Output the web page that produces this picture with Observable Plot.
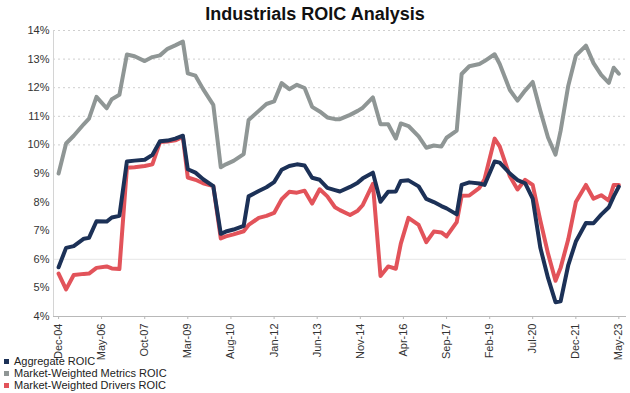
<!DOCTYPE html>
<html><head><meta charset="utf-8">
<script src="https://cdn.jsdelivr.net/npm/d3@7"></script>
<script src="https://cdn.jsdelivr.net/npm/@observablehq/plot@0.6"></script>
<style>
body{margin:0;background:#fff;font-family:"Liberation Sans",Arial,sans-serif;}
#wrap{position:relative;width:630px;height:393px;overflow:hidden;background:#fff;}
#title{position:absolute;top:3px;left:0;width:630px;text-align:center;font-weight:bold;font-size:18px;color:#111;line-height:22px;}
#chart{position:absolute;top:24px;left:0;}
#legend{position:absolute;top:355px;left:4px;font-size:11px;color:#222;line-height:12px;}
.row{white-space:nowrap;}
.sw{display:inline-block;width:5px;height:5px;margin-right:5px;vertical-align:1px;}
</style></head><body>
<div id="wrap"><div id="title">Industrials ROIC Analysis</div><div id="chart"></div><div id="legend"></div></div>
<script>
const dates = ["2004-12","2005-03","2005-06","2005-10","2005-12","2006-03","2006-07","2006-09","2006-12","2007-03",
"2007-06","2007-10","2008-01","2008-04","2008-07","2008-10","2009-01","2009-03","2009-06","2009-09",
"2010-01","2010-04","2010-06","2010-09","2011-01","2011-03","2011-07","2011-10","2012-01","2012-04",
"2012-07","2012-10","2013-01","2013-04","2013-07","2013-10","2014-01","2014-03","2014-07","2014-10",
"2014-12","2015-04","2015-07","2015-10","2016-01","2016-03","2016-06","2016-10","2017-01","2017-04",
"2017-07","2017-09","2018-01","2018-03","2018-06","2018-10","2018-12","2019-04","2019-06","2019-10",
"2020-01","2020-04","2020-07","2020-10","2021-01","2021-04","2021-06","2021-09","2021-12","2022-04",
"2022-07","2022-10","2023-01","2023-03","2023-05"];
const aggregate = [5.72,6.4,6.46,6.72,6.75,7.33,7.32,7.46,7.52,9.42,9.45,9.48,9.65,10.13,10.15,10.22,10.32,9.15,9.03,8.8,
8.56,6.89,6.97,7.04,7.17,8.2,8.39,8.52,8.7,9.13,9.26,9.32,9.28,8.85,8.78,8.5,8.42,8.37,8.53,8.68,
8.83,9.03,8.01,8.36,8.37,8.74,8.76,8.55,8.11,8.0,7.86,7.78,7.57,8.6,8.69,8.65,8.6,9.42,9.38,9.0,
8.77,8.66,8.12,6.4,5.35,4.5,4.53,5.8,6.62,7.27,7.26,7.56,7.82,8.2,8.54];
const metrics = [9.0,10.05,10.32,10.73,10.92,11.68,11.28,11.6,11.75,13.16,13.1,12.93,13.07,13.13,13.36,13.48,13.61,12.5,12.42,11.95,
11.4,9.22,9.32,9.44,9.68,10.87,11.19,11.43,11.52,12.16,11.95,12.1,11.99,11.33,11.17,10.96,10.9,10.9,11.05,11.19,
11.3,11.66,10.72,10.72,10.22,10.75,10.66,10.3,9.9,9.98,9.94,10.25,10.5,12.48,12.75,12.83,12.93,13.17,12.83,11.92,
11.55,11.9,12.2,11.19,10.26,9.66,10.49,12.07,13.12,13.47,12.86,12.45,12.17,12.7,12.49];
const drivers = [5.5,4.95,5.45,5.49,5.5,5.7,5.75,5.68,5.66,9.2,9.22,9.26,9.32,10.1,10.12,10.16,10.28,8.86,8.78,8.66,
8.56,6.73,6.8,6.87,6.98,7.2,7.45,7.52,7.62,8.1,8.36,8.33,8.4,7.95,8.45,8.2,7.82,7.72,7.55,7.7,
7.9,8.64,5.42,5.75,5.67,6.55,7.45,7.2,6.6,6.97,6.94,6.8,7.3,8.22,8.23,8.5,8.8,10.22,9.95,8.9,
8.44,8.78,8.6,7.35,6.2,5.25,5.7,6.7,8.0,8.6,8.12,8.24,8.05,8.6,8.6];
const seriesNames = ["Aggregate ROIC","Market-Weighted Metrics ROIC","Market-Weighted Drivers ROIC"];
const seriesColors = ["#1c3157","#8f9695","#e2535a"];
const tickDates = ["2004-12","2006-05","2007-10","2009-03","2010-08","2012-01","2013-06","2014-11","2016-04","2017-09","2019-02","2020-07","2021-12","2023-05"];
const yTicks = [4,5,6,7,8,9,10,11,12,13,14];
const dottedGrid = [10,11,12,13,14];
const solidGrid = [6];

const parse = d3.utcParse("%Y-%m");
const mk = (vals, name) => dates.map((d,i)=>({date:parse(d), value:vals[i], series:name}));
const rowsA = mk(aggregate, seriesNames[0]);
const rowsM = mk(metrics, seriesNames[1]);
const rowsD = mk(drivers, seriesNames[2]);
const x0 = new Date(Date.UTC(2004,9,1)), x1 = new Date(Date.UTC(2023,7,1));

const chart = Plot.plot({
  width:630, height:369, marginTop:6, marginBottom:77, marginLeft:53, marginRight:4,
  style:{fontFamily:"'Liberation Sans', Arial, sans-serif", fontSize:"11px", color:"#333", background:"transparent"},
  x:{type:"utc", domain:[x0,x1], label:null},
  y:{domain:[4,14], label:null},
  color:{domain:seriesNames, range:seriesColors},
  marks:[
    Plot.ruleY(dottedGrid, {stroke:"#cfcfcf", strokeDasharray:"2,3"}),
    Plot.ruleY(solidGrid, {stroke:"#e6e6e6"}),
    Plot.ruleX([x0], {stroke:"#d4d4d4"}),
    Plot.ruleY([4], {stroke:"#b8b8b8"}),
    Plot.axisY({ticks:yTicks, tickFormat:d=>d+"%", tickSize:0, tickPadding:4, fontSize:11, label:null}),
    Plot.axisX({ticks:tickDates.map(parse), tickFormat:d3.utcFormat("%b-%y"), tickRotate:-90, tickSize:3, tickPadding:4, fontSize:11, stroke:"#b8b8b8", label:null}),
    Plot.lineY(rowsM, {x:"date", y:"value", stroke:"series", strokeWidth:4}),
    Plot.lineY(rowsD, {x:"date", y:"value", stroke:"series", strokeWidth:4}),
    Plot.lineY(rowsA, {x:"date", y:"value", stroke:"series", strokeWidth:4})
  ]
});
document.getElementById("chart").appendChild(chart);

const leg = document.getElementById("legend");
seriesNames.forEach((n,i)=>{
  const r = document.createElement("div"); r.className="row";
  const s = document.createElement("span"); s.className="sw"; s.style.background=seriesColors[i];
  r.appendChild(s); r.appendChild(document.createTextNode(n)); leg.appendChild(r);
});
</script>
</body></html>
